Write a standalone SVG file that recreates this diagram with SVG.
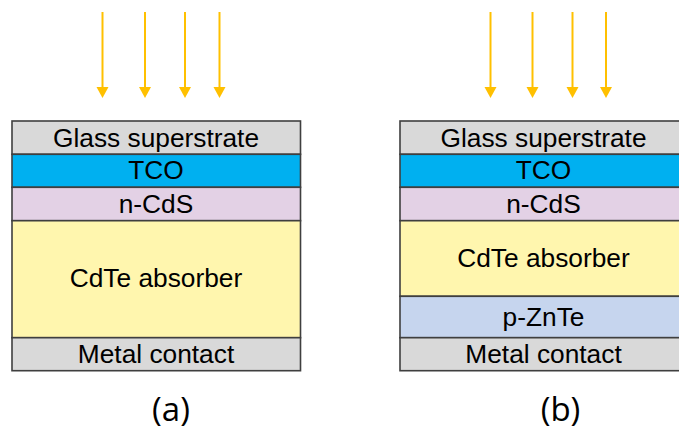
<svg xmlns="http://www.w3.org/2000/svg" width="679" height="432" viewBox="0 0 679 432">
<style>
.lay{stroke:#3F3F3F;stroke-width:1.6}
.gl{fill:#D9D9D9}.tco{fill:#00B0F0}.cds{fill:#E3D1E5}.cdte{fill:#FFF6AE}.znte{fill:#C6D5EE}
.t{font-family:"Liberation Sans",Arial,sans-serif;font-size:26.3px;fill:#000;text-anchor:middle}
.cap{font-family:"Open Sans","Liberation Sans",sans-serif;font-size:33px;fill:#000;text-anchor:middle}
.ray{stroke:#FFC000;stroke-width:2}
.head{fill:#FFC000}
</style>
<g id="connectors">
<line class="ray" x1="102.5" y1="12" x2="102.5" y2="87"/>
<path class="head" d="M96.5,87 L108.5,87 L102.5,98 Z"/>
<line class="ray" x1="145" y1="12" x2="145" y2="87"/>
<path class="head" d="M139,87 L151,87 L145,98 Z"/>
<line class="ray" x1="185" y1="12" x2="185" y2="87"/>
<path class="head" d="M179,87 L191,87 L185,98 Z"/>
<line class="ray" x1="219.5" y1="12" x2="219.5" y2="87"/>
<path class="head" d="M213.5,87 L225.5,87 L219.5,98 Z"/>
<line class="ray" x1="490.5" y1="12" x2="490.5" y2="87"/>
<path class="head" d="M484.5,87 L496.5,87 L490.5,98 Z"/>
<line class="ray" x1="532.5" y1="12" x2="532.5" y2="87"/>
<path class="head" d="M526.5,87 L538.5,87 L532.5,98 Z"/>
<line class="ray" x1="572.5" y1="12" x2="572.5" y2="87"/>
<path class="head" d="M566.5,87 L578.5,87 L572.5,98 Z"/>
<line class="ray" x1="606" y1="12" x2="606" y2="87"/>
<path class="head" d="M600,87 L612,87 L606,98 Z"/>
</g>
<g id="stack-a">
<g id="a-glass"><rect class="lay gl" x="12" y="121" width="288.5" height="33.3"/><text class="t" x="156" y="146.5">Glass superstrate</text></g>
<g id="a-tco"><rect class="lay tco" x="12" y="154.3" width="288.5" height="33"/><text class="t" x="156" y="179">TCO</text></g>
<g id="a-cds"><rect class="lay cds" x="12" y="187.3" width="288.5" height="33.4"/><text class="t" x="156" y="212.5">n-CdS</text></g>
<g id="a-cdte"><rect class="lay cdte" x="12" y="220.7" width="288.5" height="117"/><text class="t" x="156" y="287">CdTe absorber</text></g>
<g id="a-metal"><rect class="lay gl" x="12" y="337.7" width="288.5" height="33"/><text class="t" x="156" y="362.5">Metal contact</text></g>
<text id="label-a" class="cap" x="171" y="421">(a)</text>
</g>
<g id="stack-b">
<g id="b-glass"><rect class="lay gl" x="400" y="121" width="289" height="33.3"/><text class="t" x="543.5" y="146.5">Glass superstrate</text></g>
<g id="b-tco"><rect class="lay tco" x="400" y="154.3" width="289" height="33"/><text class="t" x="543.5" y="179">TCO</text></g>
<g id="b-cds"><rect class="lay cds" x="400" y="187.3" width="289" height="33.4"/><text class="t" x="543.5" y="212.5">n-CdS</text></g>
<g id="b-cdte"><rect class="lay cdte" x="400" y="220.7" width="289" height="75.6"/><text class="t" x="543.5" y="266.5">CdTe absorber</text></g>
<g id="b-znte"><rect class="lay znte" x="400" y="296.3" width="289" height="41.4"/><text class="t" x="543.5" y="325.5">p-ZnTe</text></g>
<g id="b-metal"><rect class="lay gl" x="400" y="337.7" width="289" height="33"/><text class="t" x="543.5" y="362.5">Metal contact</text></g>
<text id="label-b" class="cap" x="560.5" y="421">(b)</text>
</g>
</svg>
